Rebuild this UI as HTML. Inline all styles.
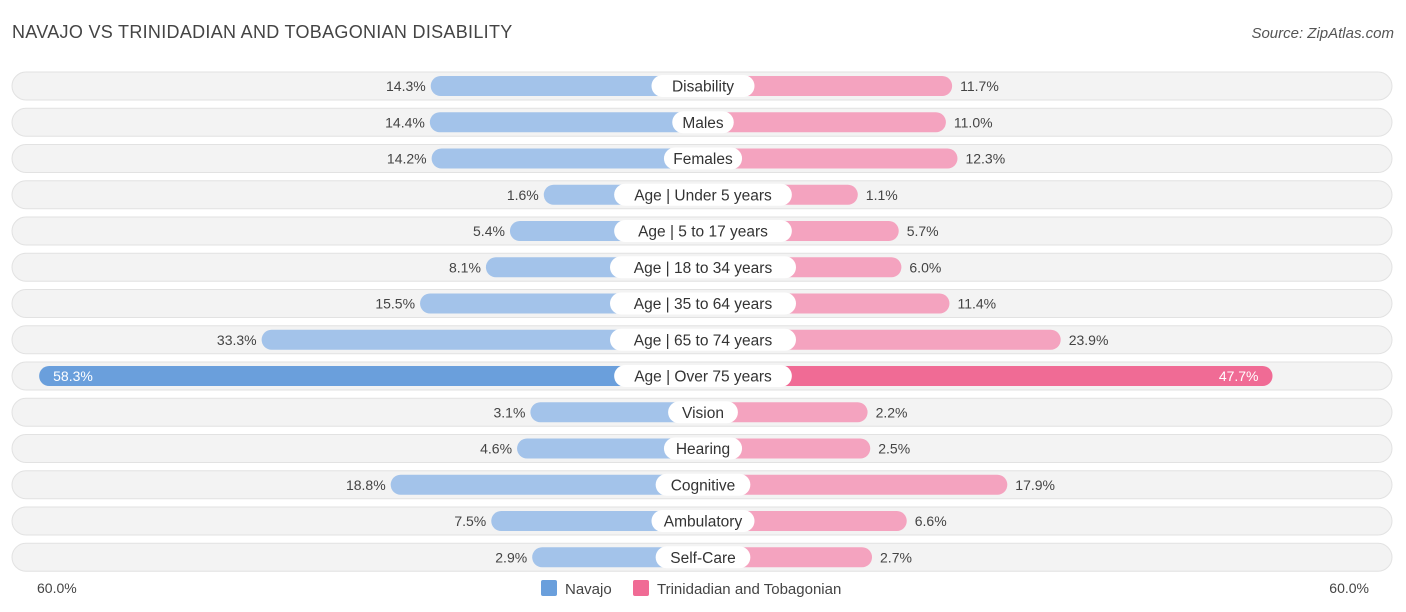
<!DOCTYPE html>
<html><head><meta charset="utf-8"><style>
body{margin:0;width:1406px;height:612px;background:#fff;font-family:"Liberation Sans",sans-serif;overflow:hidden;position:relative}
.t{position:absolute;white-space:nowrap}
</style></head><body>
<div class="t" style="left:12px;top:22px;font-size:18px;color:#444;letter-spacing:0.3px">NAVAJO VS TRINIDADIAN AND TOBAGONIAN DISABILITY</div>
<div class="t" style="right:12px;top:25px;font-size:15px;color:#555;font-style:italic">Source: ZipAtlas.com</div>
<svg id="c" width="1406" height="612" style="position:absolute;left:0;top:0"></svg>
<script>
const categories=["Disability","Males","Females","Age | Under 5 years","Age | 5 to 17 years","Age | 18 to 34 years","Age | 35 to 64 years","Age | 65 to 74 years","Age | Over 75 years","Vision","Hearing","Cognitive","Ambulatory","Self-Care"];
const navajo=[14.3,14.4,14.2,1.6,5.4,8.1,15.5,33.3,58.3,3.1,4.6,18.8,7.5,2.9];
const trini=[11.7,11.0,12.3,1.1,5.7,6.0,11.4,23.9,47.7,2.2,2.5,17.9,6.6,2.7];
const axisLabels=["60.0%","60.0%"];
const svg=document.getElementById('c');const NS="http://www.w3.org/2000/svg";
const cx=703,c0=145,k=8.9,y0=86,dy=36.25;
function w(v){return c0+k*v;}
function mk(t,a,name){const e=document.createElementNS(NS,t);for(const q in a)e.setAttribute(q,a[q]);


svg.appendChild(e);return e;}
categories.forEach((cat,i)=>{
const y=y0+i*dy;const big=navajo[i]>40;
mk('rect',{x:12,y:y-14,width:1380,height:28,rx:14,fill:'#f3f3f3',stroke:'#e2e2e2'},'row-background');
const lw=w(navajo[i]),rw=w(trini[i]);
mk('rect',{x:cx-lw,y:y-10,width:lw,height:20,rx:10,fill:big?'#6a9fdc':'#a3c3ea'},'bar-navajo');
mk('rect',{x:cx,y:y-10,width:rw,height:20,rx:10,fill:big?'#f06b95':'#f4a3bf'},'bar-trinidadian');
const tw=cat.length*8.3+20;
mk('rect',{x:cx-tw/2,y:y-11,width:tw,height:22,rx:11,fill:'#fff'},'category-pill');
const t=mk('text',{x:cx,y:y+5.5,'text-anchor':'middle','font-size':15.5,fill:'#333'},'category-label');t.textContent=cat;
const a=mk('text',big?{x:cx-lw+14,y:y+5,'font-size':14,fill:'#fff'}:{x:cx-lw-5,y:y+5,'text-anchor':'end','font-size':14,fill:'#444'},'value-navajo');a.textContent=navajo[i].toFixed(1)+'%';
const b=mk('text',big?{x:cx+rw-14,y:y+5,'text-anchor':'end','font-size':14,fill:'#fff'}:{x:cx+rw+8,y:y+5,'font-size':14,fill:'#444'},'value-trinidadian');b.textContent=trini[i].toFixed(1)+'%';
});
const l=mk('text',{x:37,y:593,'font-size':14,fill:'#444'},'axis-label-left');l.textContent=axisLabels[0];
const r=mk('text',{x:1369,y:593,'text-anchor':'end','font-size':14,fill:'#444'},'axis-label-right');r.textContent=axisLabels[1];
mk('rect',{x:541,y:580,width:16,height:16,rx:2,fill:'#6a9fdc'},'legend-swatch-navajo');
const l1=mk('text',{x:565,y:594,'font-size':15,fill:'#444'},'legend-navajo');l1.textContent='Navajo';
mk('rect',{x:633,y:580,width:16,height:16,rx:2,fill:'#f06b95'},'legend-swatch-trinidadian');
const l2=mk('text',{x:657,y:594,'font-size':15,fill:'#444'},'legend-trinidadian');l2.textContent='Trinidadian and Tobagonian';
</script>
</body></html>
